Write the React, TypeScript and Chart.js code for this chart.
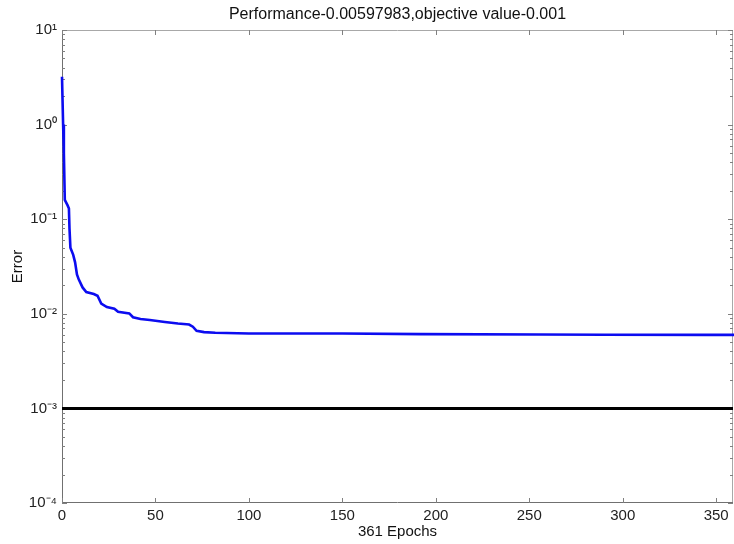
import { useEffect, useRef } from 'react';
import { Chart, registerables } from 'chart.js';

Chart.register(...registerables);

// ---- data ----
const epochs = [0, 0.6, 1, 1.5, 3, 3.7, 4, 4.5, 6, 7, 8, 9, 11, 13, 17, 19, 21, 24, 28, 30, 36, 38, 42, 47, 55, 62, 68, 70, 72, 76, 82, 100, 150, 192, 255, 290, 346, 361];
const errors = [3.2, 1.0, 0.5, 0.16, 0.14, 0.13, 0.08, 0.05, 0.042, 0.035, 0.026, 0.023, 0.019, 0.017, 0.0162, 0.0155, 0.0128, 0.0118, 0.0113, 0.0105, 0.0101, 0.0092, 0.0088, 0.0086, 0.0082, 0.0079, 0.0077, 0.0073, 0.0066, 0.0064, 0.0063, 0.0062, 0.0062, 0.0061, 0.00605, 0.006, 0.00598, 0.00598];
const goalEpochs = [0, 361];
const goalValues = [0.001, 0.001];

const xTicks = [0, 50, 100, 150, 200, 250, 300, 350];
const yTicks = [1e-4, 1e-3, 1e-2, 1e-1, 1, 10];
const yTickLabels = ['10\u207B\u2074', '10\u207B\u00B3', '10\u207B\u00B2', '10\u207B\u00B9', '10\u2070', '10\u00B9'];
const titleText = 'Performance-0.00597983,objective value-0.001';
const xTitle = '361 Epochs';
const yTitle = 'Error';

const FONT = '"Liberation Sans", Arial, Helvetica, sans-serif';

const framePlugin = {
  id: 'matlabFrame',
  beforeDatasetsDraw(chart: any) {
    const { ctx, chartArea } = chart;
    const { left, right, top, bottom } = chartArea;
    const xs = chart.scales.x;
    const ys = chart.scales.y;
    ctx.save();
    ctx.lineWidth = 1;
    ctx.strokeStyle = '#a8a8a8';
    ctx.beginPath();
    ctx.moveTo(left, top + 0.5);
    ctx.lineTo(right, top + 0.5);
    ctx.moveTo(right - 0.5, top);
    ctx.lineTo(right - 0.5, bottom);
    ctx.stroke();
    ctx.strokeStyle = '#707070';
    ctx.beginPath();
    ctx.moveTo(left + 0.5, top);
    ctx.lineTo(left + 0.5, bottom);
    ctx.moveTo(left, bottom - 0.5);
    ctx.lineTo(right, bottom - 0.5);
    ctx.stroke();
    ctx.strokeStyle = '#808080';
    ctx.beginPath();
    xTicks.forEach((v) => {
      const px = Math.round(xs.getPixelForValue(v)) + 0.5;
      ctx.moveTo(px, bottom);
      ctx.lineTo(px, bottom - 5);
      ctx.moveTo(px, top);
      ctx.lineTo(px, top + 5);
    });
    for (let e = -4; e <= 1; e++) {
      for (let k = 1; k <= 9; k++) {
        if (e === 1 && k > 1) break;
        const v = k * Math.pow(10, e);
        const py = Math.round(ys.getPixelForValue(v)) + 0.5;
        const len = k === 1 ? 5 : 3;
        ctx.moveTo(left, py);
        ctx.lineTo(left + len, py);
        ctx.moveTo(right, py);
        ctx.lineTo(right - len, py);
      }
    }
    ctx.stroke();
    ctx.restore();
  },
};

export default function App() {
  const ref = useRef<HTMLCanvasElement | null>(null);

  useEffect(() => {
    document.body.style.margin = '0';
    const canvas = ref.current;
    if (!canvas) return;
    const chart = new Chart(canvas, {
      type: 'line',
      data: {
        datasets: [
          {
            label: 'Train',
            data: epochs.map((x, i) => ({ x, y: errors[i] })),
            borderColor: '#0c0cf0',
            borderWidth: 2.6,
            pointRadius: 0,
            tension: 0,
            fill: false,
            clip: 2,
          },
          {
            label: 'Goal',
            data: goalEpochs.map((x, i) => ({ x, y: goalValues[i] })),
            borderColor: '#000000',
            borderWidth: 3,
            pointRadius: 0,
            fill: false,
          },
        ],
      },
      options: {
        responsive: false,
        animation: false,
        devicePixelRatio: 1,
        layout: { padding: { left: 0, right: 1, top: 0, bottom: 0 } },
        plugins: {
          legend: { display: false },
          tooltip: { enabled: false },
          title: {
            display: true,
            fullSize: false,
            text: titleText,
            color: '#111',
            font: { family: FONT, size: 16, weight: 'normal', lineHeight: 1 },
            padding: { top: 7, bottom: 7 },
          },
        },
        scales: {
          x: {
            type: 'linear',
            min: 0,
            max: 359,
            afterFit: (s: any) => {
              s.height = 41;
            },
            afterBuildTicks: (s: any) => {
              s.ticks = xTicks.map((v) => ({ value: v }));
            },
            ticks: {
              color: '#222',
              font: { family: FONT, size: 15 },
              padding: 4,
              maxRotation: 0,
              autoSkip: false,
              includeBounds: false,
            },
            grid: { display: false, drawTicks: false },
            border: { display: false },
            title: {
              display: true,
              text: xTitle,
              color: '#111',
              font: { family: FONT, size: 15 },
              padding: { top: 0, bottom: 3 },
            },
          },
          y: {
            type: 'logarithmic',
            min: 1e-4,
            max: 10,
            afterFit: (s: any) => {
              s.width = 62;
            },
            afterBuildTicks: (s: any) => {
              s.ticks = yTicks.map((v) => ({ value: v }));
            },
            ticks: {
              color: '#222',
              font: { family: FONT, size: 15 },
              padding: 5,
              autoSkip: false,
              callback: (_v: any, i: number) => yTickLabels[i],
            },
            grid: { display: false, drawTicks: false },
            border: { display: false },
            title: {
              display: true,
              text: yTitle,
              color: '#111',
              font: { family: FONT, size: 15 },
              padding: { top: 9, bottom: 0 },
            },
          },
        },
      },
      plugins: [framePlugin],
    } as any);
    return () => chart.destroy();
  }, []);

  return (
    <div style={{ position: 'absolute', left: 0, top: 0, width: 734, height: 544, background: '#fff' }}>
      <canvas ref={ref} width={734} height={544} />
    </div>
  );
}
